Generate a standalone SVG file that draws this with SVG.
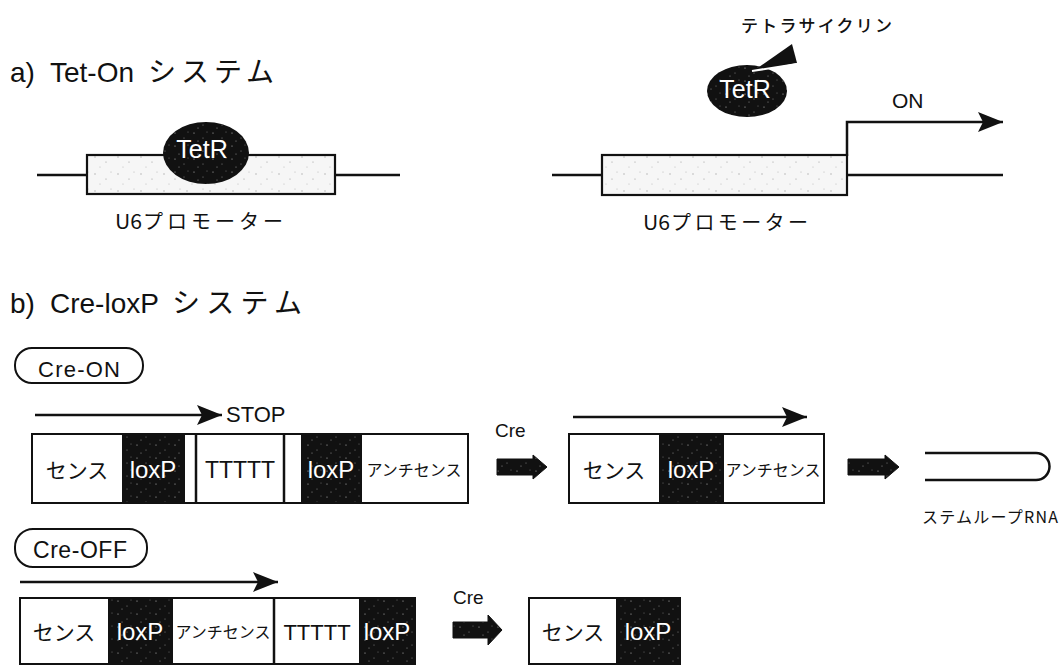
<svg xmlns="http://www.w3.org/2000/svg" width="1063" height="666" viewBox="0 0 1063 666">
<style>
.t{font-family:"Liberation Sans","Noto Sans CJK JP",sans-serif;fill:#111}
.jp{font-family:"Noto Sans CJK JP","Liberation Sans",sans-serif;fill:#111}
.w{fill:#fff}
.box{fill:#fff;stroke:#111;stroke-width:2}
.prom{fill:url(#lightSpeck);stroke:#111;stroke-width:2.2}
.dark{fill:url(#darkSpeck);stroke:#111;stroke-width:2}
.ln{stroke:#111;stroke-width:2.5;fill:none}
.fat{fill:url(#darkSpeck);stroke:#111;stroke-width:1}
</style>
<defs>
<pattern id="lightSpeck" width="23" height="17" patternUnits="userSpaceOnUse">
<rect width="23" height="17" fill="#f6f6f6"/>
<circle cx="3" cy="4" r="0.7" fill="#aaa"/>
<circle cx="14" cy="9" r="0.6" fill="#999"/>
<circle cx="8" cy="14" r="0.6" fill="#bbb"/>
<circle cx="19" cy="2" r="0.5" fill="#aaa"/>
</pattern>
<pattern id="darkSpeck" width="19" height="13" patternUnits="userSpaceOnUse">
<rect width="19" height="13" fill="#111"/>
<circle cx="4" cy="3" r="0.6" fill="#bbb"/>
<circle cx="13" cy="8" r="0.5" fill="#999"/>
<circle cx="8" cy="11" r="0.5" fill="#aaa"/>
<circle cx="17" cy="2" r="0.4" fill="#ccc"/>
</pattern>
<marker id="ah" markerUnits="userSpaceOnUse" markerWidth="26" markerHeight="22" refX="25" refY="11" orient="auto" viewBox="0 0 26 22">
<path d="M0,1 L25,11 L0,21 L5,11 z" fill="#111"/>
</marker>
</defs>

<g id="title-a"><text class="t" y="82" font-size="28"><tspan x="10">a)</tspan><tspan x="50">Tet-On</tspan><tspan x="148" textLength="126" lengthAdjust="spacing">システム</tspan></text></g>

<g id="promoter-left">
<rect class="prom" x="87" y="155" width="248" height="39"/>
<text class="jp" y="229" font-size="20"><tspan x="115" textLength="27" lengthAdjust="spacingAndGlyphs">U6</tspan><tspan x="143" textLength="140" lengthAdjust="spacing">プロモーター</tspan></text>
</g>
<g id="tetR-left">
<ellipse cx="206" cy="153" rx="43" ry="31" fill="url(#darkSpeck)"/>
<text class="t w" x="202" y="158" font-size="25" text-anchor="middle">TetR</text>
</g>

<g id="promoter-right">
<rect class="prom" x="602" y="155" width="245" height="40"/>
<text class="jp" y="230" font-size="20"><tspan x="643" textLength="27" lengthAdjust="spacingAndGlyphs">U6</tspan><tspan x="671" textLength="137" lengthAdjust="spacing">プロモーター</tspan></text>
</g>
<g id="tetR-right">
<ellipse cx="747" cy="91" rx="40" ry="26" fill="url(#darkSpeck)"/>
<text class="t w" x="745" y="98" font-size="25" text-anchor="middle">TetR</text>
</g>
<g id="tetracycline">
<polygon points="752,72 792,44 797,63" fill="#111"/>
<line x1="752" y1="71" x2="797" y2="64" stroke="#fff" stroke-width="2"/>
<text class="jp" x="741" y="32" font-size="17" textLength="151" lengthAdjust="spacing" font-weight="500">テトラサイクリン</text>
</g>
<g id="label-on"><text class="t" x="892" y="108" font-size="21">ON</text></g>

<g id="title-b"><text class="t" y="313" font-size="28"><tspan x="10">b)</tspan><tspan x="50">Cre-loxP</tspan><tspan x="172" textLength="130" lengthAdjust="spacing">システム</tspan></text></g>

<g id="cre-on-label">
<rect x="15" y="348" width="128" height="35" rx="17" fill="#fff" stroke="#111" stroke-width="2"/>
<text class="t" x="38" y="377" font-size="22" textLength="82" lengthAdjust="spacing">Cre-ON</text>
</g>
<g id="stop-label"><text class="t" x="226" y="422" font-size="22">STOP</text></g>

<g id="cre-on-construct">
<rect class="box" x="32" y="434" width="436" height="69"/>
<rect class="dark" x="123" y="434" width="61" height="69"/>
<rect class="dark" x="302" y="434" width="59" height="69"/>
<line class="ln" x1="196" y1="434" x2="196" y2="503" stroke-width="2"/>
<line class="ln" x1="284" y1="434" x2="284" y2="503" stroke-width="2"/>
<text class="jp" x="77" y="478" font-size="21" text-anchor="middle">センス</text>
<text class="t w" x="153" y="478" font-size="24" text-anchor="middle">loxP</text>
<text class="t" x="240" y="478" font-size="23" text-anchor="middle">TTTTT</text>
<text class="t w" x="331" y="478" font-size="24" text-anchor="middle">loxP</text>
<text class="jp" x="414" y="476" font-size="16" text-anchor="middle">アンチセンス</text>
</g>
<g id="cre-label-1"><text class="t" x="495" y="437" font-size="19">Cre</text></g>

<g id="cre-on-product">
<rect class="box" x="569" y="434" width="255" height="69"/>
<rect class="dark" x="660" y="434" width="63" height="69"/>
<text class="jp" x="614" y="478" font-size="21" text-anchor="middle">センス</text>
<text class="t w" x="691" y="478" font-size="24" text-anchor="middle">loxP</text>
<text class="jp" x="773" y="476" font-size="16" text-anchor="middle">アンチセンス</text>
</g>

<g id="stemloop">
<path class="ln" d="M925,453 H1036 A13.5,13.5 0 0 1 1036,480 H925"/>
<text class="jp" x="922" y="523" font-size="16" textLength="136" lengthAdjust="spacing">ステムループRNA</text>
</g>

<g id="cre-off-label">
<rect x="15" y="529" width="132" height="38" rx="18" fill="#fff" stroke="#111" stroke-width="2"/>
<text class="t" x="33" y="558" font-size="23" textLength="94" lengthAdjust="spacing">Cre-OFF</text>
</g>

<g id="cre-off-construct">
<rect class="box" x="20" y="598" width="395" height="66"/>
<rect class="dark" x="109" y="598" width="63" height="66"/>
<rect class="dark" x="360" y="598" width="55" height="66"/>
<line class="ln" x1="274" y1="598" x2="274" y2="664" stroke-width="2"/>
<text class="jp" x="64" y="640" font-size="21" text-anchor="middle">センス</text>
<text class="t w" x="140" y="640" font-size="24" text-anchor="middle">loxP</text>
<text class="jp" x="223" y="638" font-size="16" text-anchor="middle">アンチセンス</text>
<text class="t" x="317" y="640" font-size="22" text-anchor="middle">TTTTT</text>
<text class="t w" x="387" y="640" font-size="24" text-anchor="middle">loxP</text>
</g>
<g id="cre-label-2"><text class="t" x="453" y="604" font-size="19">Cre</text></g>

<g id="cre-off-product">
<rect class="box" x="529" y="598" width="151" height="66"/>
<rect class="dark" x="617" y="598" width="63" height="66"/>
<text class="jp" x="573" y="640" font-size="21" text-anchor="middle">センス</text>
<text class="t w" x="648" y="640" font-size="24" text-anchor="middle">loxP</text>
</g>

<g id="connectors">
<line class="ln" x1="37" y1="175" x2="87" y2="175"/>
<line class="ln" x1="335" y1="175" x2="400" y2="175"/>
<line class="ln" x1="552" y1="175" x2="602" y2="175"/>
<line class="ln" x1="847" y1="175" x2="1003" y2="175"/>
<path class="ln" d="M847,156 V122 H1003" marker-end="url(#ah)"/>
<line class="ln" x1="35" y1="415" x2="222" y2="415" marker-end="url(#ah)"/>
<line class="ln" x1="573" y1="417" x2="807" y2="417" marker-end="url(#ah)"/>
<line class="ln" x1="20" y1="582" x2="278" y2="582" marker-end="url(#ah)"/>
<polygon class="fat" points="497,459 533,459 533,455 547,467 533,479 533,475 497,475"/>
<polygon class="fat" points="848,459 885,459 885,455 899,467 885,479 885,475 848,475"/>
<polygon class="fat" points="453,622 488,622 488,615 502,630 488,645 488,638 453,638"/>
</g>
</svg>
